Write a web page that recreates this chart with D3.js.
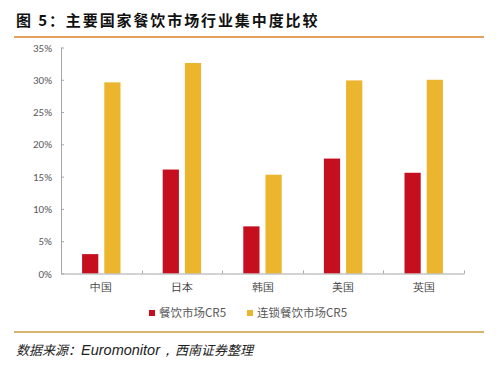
<!DOCTYPE html>
<html><head><meta charset="utf-8">
<script src="https://cdn.jsdelivr.net/npm/d3@7"></script>
<style>
body{margin:0;background:#fff;}
svg{display:block;font-family:"Noto Sans CJK SC","Noto Sans",sans-serif;}
</style></head>
<body>
<script>
const categories = ["中国","日本","韩国","美国","英国"];
const seriesNames = ["餐饮市场CR5","连锁餐饮市场CR5"];
const cr5 = [3.0, 16.1, 7.3, 17.8, 15.6];
const chainCr5 = [29.6, 32.6, 15.3, 29.9, 30.0];
const yTicks = [0,5,10,15,20,25,30,35];
const colors = ["#C50E1E","#EBB52D"];

const W=499,H=367;
const svg=d3.select("body").append("svg").attr("width",W).attr("height",H);

// title
svg.append("text").attr("x",16).attr("y",26).attr("font-size",15).attr("font-weight","bold")
  .attr("fill","#111").attr("letter-spacing","1.9px").text("图 5：主要国家餐饮市场行业集中度比较");
svg.append("line").attr("x1",14).attr("x2",484).attr("y1",37).attr("y2",37)
  .attr("stroke","#E3A25E").attr("stroke-width",2);

const m={l:61,r:35,t:47.5,b:273.5};
const x=d3.scaleBand().domain(categories).range([m.l,W-m.r]);
const y=d3.scaleLinear().domain([0,35]).range([m.b,m.t]);
const x1=d3.scaleBand().domain(seriesNames).range([0,x.bandwidth()]).paddingInner(0.27).paddingOuter(0.95);

const data=categories.map((c,i)=>({c,v:[cr5[i],chainCr5[i]]}));
const g=svg.append("g");
data.forEach(d=>{
  d.v.forEach((v,j)=>{
    g.append("rect").attr("x",x(d.c)+x1(seriesNames[j])).attr("width",x1.bandwidth())
     .attr("y",y(v)).attr("height",y(0)-y(v)).attr("fill",colors[j]);
  });
});

// y axis
const ya=svg.append("g").attr("transform",`translate(${m.l},0)`)
  .call(d3.axisRight(y).tickValues(yTicks).tickSize(3).tickFormat(d=>d+"%"));
ya.select(".domain").attr("stroke","#A6A6A6").attr("d",`M0.5,${m.t}V${m.b}`);
ya.selectAll(".tick line").attr("stroke","#A6A6A6").attr("x2",3);
ya.selectAll(".tick text").attr("x",-9).attr("text-anchor","end").attr("fill","#595959")
  .attr("font-size",11).attr("font-family","Calibri,Carlito,'Liberation Sans',sans-serif");

// x axis
const xa=svg.append("g").attr("transform",`translate(0,${m.b})`)
  .call(d3.axisBottom(x).tickSize(0));
xa.select(".domain").attr("stroke","#A6A6A6");
xa.selectAll(".tick text").attr("y",10).attr("fill","#404040").attr("font-size",11);
const bounds=categories.map(c=>x(c)).concat([W-m.r]);
xa.selectAll(".sep").data(bounds).enter().append("line")
  .attr("x1",d=>Math.round(d)+0.5).attr("x2",d=>Math.round(d)+0.5).attr("y1",0).attr("y2",-3)
  .attr("stroke","#A6A6A6");

// legend
const lg=svg.append("g");
const lx=[149,247];
seriesNames.forEach((s,j)=>{
  lg.append("rect").attr("x",lx[j]).attr("y",310).attr("width",6).attr("height",6).attr("fill",colors[j]);
  lg.append("text").attr("x",lx[j]+10).attr("y",317).attr("font-size",11.5).attr("fill","#595959").text(s);
});

// bottom line and source
svg.append("line").attr("x1",14).attr("x2",484).attr("y1",332).attr("y2",332)
  .attr("stroke","#D6B36E").attr("stroke-width",2);
const src=svg.append("text").attr("x",16).attr("y",355).attr("font-size",14.5).attr("font-style","italic").attr("fill","#222");
src.append("tspan").attr("font-family","'Noto Sans CJK SC',serif").attr("font-size",13).text("数据来源：");
src.append("tspan").attr("font-family","'Liberation Sans',Arial,sans-serif").text("Euromonitor，");
src.append("tspan").attr("font-family","'Noto Sans CJK SC',serif").attr("font-size",13).text("西南证券整理");
</script>
</body></html>
